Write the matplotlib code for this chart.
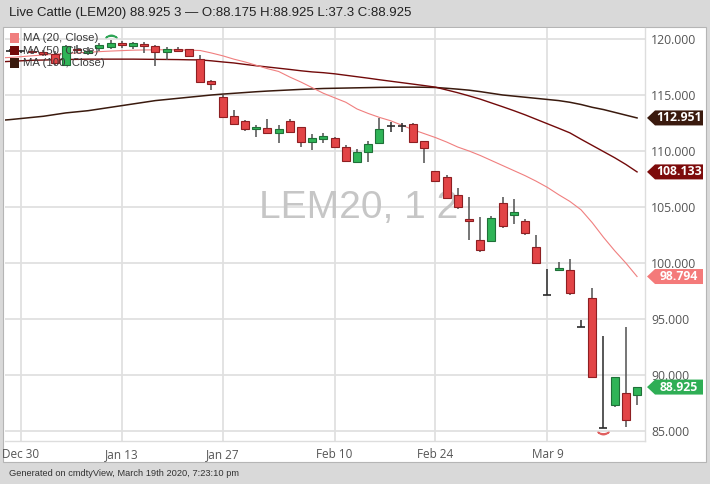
import matplotlib
matplotlib.use("Agg")
import matplotlib.pyplot as plt
from matplotlib.patches import Rectangle, Polygon
import numpy as np

# ---------------- data ----------------
dates = ["Dec 26", "Dec 27", "Dec 30", "Dec 31", "Jan 2", "Jan 3", "Jan 6", "Jan 7", "Jan 8", "Jan 9",
         "Jan 10", "Jan 13", "Jan 14", "Jan 15", "Jan 16", "Jan 17", "Jan 21", "Jan 22", "Jan 23", "Jan 24",
         "Jan 27", "Jan 28", "Jan 29", "Jan 30", "Jan 31", "Feb 3", "Feb 4", "Feb 5", "Feb 6", "Feb 7",
         "Feb 10", "Feb 11", "Feb 12", "Feb 13", "Feb 14", "Feb 18", "Feb 19", "Feb 20", "Feb 21", "Feb 24",
         "Feb 25", "Feb 26", "Feb 27", "Feb 28", "Mar 2", "Mar 3", "Mar 4", "Mar 5", "Mar 6", "Mar 9",
         "Mar 10", "Mar 11", "Mar 12", "Mar 13", "Mar 16", "Mar 17", "Mar 18", "Mar 19"]

nan = float("nan")
opens = [nan, 118.95, 118.90, 118.95, 118.80, 118.65, 117.70, 119.10, 118.78, 119.15,
         119.26, 119.67, 119.38, 119.53, 119.38, 118.87, 119.08, 119.08, 118.19, 116.28,
         114.80, 113.13, 112.70, 111.94, 112.02, 111.63, 112.68, 112.11, 110.83, 111.07,
         111.19, 110.32, 109.06, 109.88, 110.69, 112.23, 112.23, 112.40, 110.89, 108.21,
         107.71, 106.07, 103.93, 102.05, 101.99, 105.38, 104.31, 103.78, 101.46, 97.10,
         99.35, 99.38, 94.26, 96.85, 85.30, 87.32, 88.37, 88.175]
highs = [nan, 119.10, 119.05, 119.10, 119.00, 118.90, 119.50, 119.45, 119.30, 119.60,
         119.90, 119.80, 119.75, 119.73, 119.46, 119.26, 119.32, 119.10, 118.57, 116.30,
         115.00, 113.66, 112.75, 112.32, 112.83, 112.32, 112.83, 112.15, 111.49, 111.63,
         111.25, 110.54, 110.15, 110.92, 112.92, 112.62, 112.50, 112.53, 110.92, 108.25,
         107.86, 106.67, 105.86, 104.08, 104.20, 105.92, 105.68, 103.93, 102.50, 99.50,
         100.06, 100.33, 94.90, 97.74, 93.48, 89.82, 94.26, 88.925]
lows = [nan, 118.80, 118.75, 118.70, 118.50, 117.70, 117.60, 118.75, 118.60, 118.95,
        119.08, 119.17, 119.08, 118.72, 117.55, 118.13, 118.87, 118.35, 116.10, 115.45,
        112.95, 112.30, 111.81, 111.22, 111.52, 110.69, 111.63, 110.38, 110.09, 110.74,
        110.30, 109.05, 109.00, 109.06, 110.65, 111.72, 111.72, 110.80, 108.90, 107.30,
        105.70, 104.80, 102.05, 101.01, 101.95, 103.10, 103.48, 102.50, 99.90, 97.10,
        99.26, 97.15, 94.26, 89.75, 85.30, 87.11, 85.33, 87.30]
closes = [nan, 118.95, 118.90, 118.80, 118.70, 117.85, 119.40, 119.00, 118.96, 119.43,
          119.67, 119.46, 119.67, 119.38, 118.83, 119.08, 118.93, 118.48, 116.19, 115.95,
          113.00, 112.41, 111.94, 112.17, 111.58, 111.94, 111.72, 110.83, 111.13, 111.34,
          110.39, 109.11, 109.95, 110.60, 111.94, 112.23, 112.23, 110.83, 110.24, 107.36,
          105.77, 104.96, 103.72, 101.16, 104.00, 103.30, 104.55, 102.65, 99.97, 97.10,
          99.52, 97.29, 94.26, 89.79, 85.30, 89.79, 85.98, 88.925]

ma20 = [118.30, 118.35, 118.42, 118.50, 118.57, 118.63, 118.70, 118.76, 118.82, 118.87,
        118.92, 118.96, 119.00, 119.02, 119.03, 119.04, 119.03, 119.00, 118.97, 118.75,
        118.50, 118.20, 117.95, 117.65, 117.35, 117.10, 116.60, 116.15, 115.65, 115.15,
        114.75, 114.35, 113.75, 113.35, 113.00, 112.70, 112.30, 111.90, 111.55, 111.20,
        110.80, 110.35, 110.00, 109.60, 109.15, 108.70, 108.25, 107.80, 107.30, 106.75,
        106.10, 105.50, 104.75, 103.60, 102.30, 101.10, 100.00, 98.794]
ma50 = [117.95, 118.00, 118.05, 118.10, 118.12, 118.15, 118.17, 118.18, 118.20, 118.20,
        118.20, 118.20, 118.20, 118.19, 118.18, 118.17, 118.16, 118.14, 118.13, 118.05,
        117.95, 117.86, 117.73, 117.61, 117.50, 117.39, 117.28, 117.16, 117.06, 116.99,
        116.89, 116.76, 116.63, 116.50, 116.36, 116.23, 116.10, 115.97, 115.84, 115.70,
        115.45, 115.20, 114.92, 114.63, 114.29, 113.95, 113.60, 113.23, 112.83, 112.43,
        112.03, 111.62, 111.05, 110.50, 109.95, 109.40, 108.80, 108.133]
ma100 = [112.72, 112.80, 112.90, 113.00, 113.10, 113.25, 113.40, 113.50, 113.60, 113.75,
         113.90, 114.05, 114.20, 114.35, 114.50, 114.60, 114.70, 114.80, 114.90, 115.00,
         115.08, 115.15, 115.22, 115.29, 115.35, 115.40, 115.45, 115.50, 115.54, 115.58,
         115.60, 115.62, 115.64, 115.66, 115.68, 115.69, 115.70, 115.70, 115.69, 115.67,
         115.60, 115.52, 115.43, 115.30, 115.15, 115.00, 114.90, 114.80, 114.70, 114.60,
         114.50, 114.35, 114.15, 113.90, 113.70, 113.45, 113.20, 112.951]

tick_dates = ["Dec 30", "Jan 13", "Jan 27", "Feb 10", "Feb 24", "Mar 9"]
y_ticks = [85, 90, 95, 100, 105, 110, 115, 120]
legend_labels = ["MA (20, Close)", "MA (50, Close)", "MA (100, Close)"]
title_text = "Live Cattle (LEM20) 88.925 3 \u2014 O:88.175 H:88.925 L:37.3 C:88.925"
footer_text = "Generated on cmdtyView, March 19th 2020, 7:23:10 pm"
watermark = "LEM20, 1 2"

# ---------------- styling ----------------
W, H = 710, 484
C_UP, C_UP_E = "#2fb457", "#1f7038"
C_DN, C_DN_E = "#e24446", "#8e1f22"
C_WICK = "#505050"
C_MA20, C_MA50, C_MA100 = "#f07f7f", "#720a0a", "#3a1a0e"
C_GRID = "#e0e0e0"
C_TXT = "#555555"

plt.rcParams["font.family"] = ["Liberation Sans", "DejaVu Sans"]

fig = plt.figure(figsize=(W / 100, H / 100), dpi=100)
fig.patch.set_facecolor("#d9d9d9")


def fx(x):
    return x / W


def fy(y):
    return 1 - y / H


# white panel (behind the axes)
fig.patches.append(Rectangle((fx(3), fy(462)), fx(703), (462 - 27) / H, transform=fig.transFigure,
                             facecolor="white", edgecolor="#b5b5b5", lw=0.8, zorder=-5))

ax = fig.add_axes([fx(5), fy(441), 640 / W, 413 / H])
ax.set_facecolor("white")
ax.set_zorder(1)

n = len(dates)
idx0 = dates.index("Dec 30")
xs = np.arange(n) - idx0
ax.set_xlim(-1.43, 55.71)
ax.set_ylim(84.11, 120.98)

# grid
xt = [dates.index(d) - idx0 for d in tick_dates]
ax.set_xticks(xt)
ax.set_xticklabels(tick_dates, fontsize=8.5, color=C_TXT, family=["Open Sans", "DejaVu Sans"])
ax.set_yticks(y_ticks)
ax.set_yticklabels(["%.3f" % v for v in y_ticks], fontsize=8.8, color=C_TXT,
                   family=["Open Sans", "DejaVu Sans"])
ax.yaxis.tick_right()
ax.tick_params(axis="y", length=0, pad=4.5)
ax.tick_params(axis="x", length=0, pad=5)
ax.grid(True, color=C_GRID, lw=1.3, zorder=0)
ax.set_axisbelow(True)
for s in ["top", "left"]:
    ax.spines[s].set_visible(False)
for s in ["bottom", "right"]:
    ax.spines[s].set_color("#dddddd")
    ax.spines[s].set_linewidth(1.0)

# watermark
ax.text(0.397, 0.563, watermark, transform=ax.transAxes, fontsize=28, color="#c6c6c6",
        ha="left", va="center", zorder=1, family=["Liberation Sans", "DejaVu Sans"])

# MA lines
ax.plot(xs, ma100, color=C_MA100, lw=1.1, zorder=2)
ax.plot(xs, ma50, color=C_MA50, lw=1.0, zorder=2)
ax.plot(xs, ma20, color=C_MA20, lw=0.8, zorder=2)

# candles
bw = 0.72
o = np.array(opens); h = np.array(highs); l = np.array(lows); c = np.array(closes)
valid = ~np.isnan(o)
for i in np.where(valid)[0]:
    x = xs[i]
    if abs(c[i] - o[i]) < 1e-9:
        ax.vlines(x, l[i], h[i], color="#2a2a2a", lw=1.1, zorder=3)
        ax.hlines(o[i], x - bw / 2, x + bw / 2, color="#2a2a2a", lw=1.2, zorder=3)
        continue
    up = c[i] > o[i]
    ax.vlines(x, l[i], h[i], color=C_WICK, lw=1.1, zorder=3)
    ax.bar(x, abs(c[i] - o[i]), bottom=min(o[i], c[i]), width=bw,
           color=C_UP if up else C_DN, edgecolor=C_UP_E if up else C_DN_E, lw=0.8, zorder=4)

# high / low markers
imax = int(np.nanargmax(h)); imin = int(np.nanargmin(l))
ax.plot(xs[imax], h[imax] + 0.4, marker=r"$\frown$", ms=8, color="#2fa556", zorder=5)
ax.plot(xs[imin], l[imin] - 0.45, marker=r"$\smile$", ms=8, color="#e06060", zorder=5)

# legend
for k, (lab, col) in enumerate(zip(legend_labels, [C_MA20, C_MA50, C_MA100])):
    yc = 38 + k * 12.6
    fig.patches.append(Rectangle((fx(10), fy(yc + 4.5)), 9 / W, 9.5 / H, transform=fig.transFigure,
                                 facecolor=col, edgecolor="none", zorder=6))
    fig.text(fx(23), fy(yc), lab, fontsize=8.2, color="#3a3a3a", ha="left", va="center", zorder=6)

# right-side value tags
fig.canvas.draw()
inv = fig.transFigure.inverted()


def tag(val, col, txt, tcol="white"):
    yd = ax.transData.transform((0, val))[1]
    pts = [(647, yd), (655, yd - 7.5), (703, yd - 7.5), (703, yd + 7.5), (655, yd + 7.5)]
    pts = inv.transform(pts)
    fig.patches.append(Polygon(pts, closed=True, transform=fig.transFigure, facecolor=col,
                               edgecolor="none", zorder=7))
    fig.text(fx(679), inv.transform((0, yd))[1], txt, fontsize=8.8, fontweight="bold", color=tcol,
             ha="center", va="center", zorder=8, family=["Open Sans", "DejaVu Sans"])


tag(ma100[-1], C_MA100, "%.3f" % ma100[-1])
tag(ma50[-1], "#7d0b0b", "%.3f" % ma50[-1])
tag(ma20[-1], "#f47a7a", "%.3f" % ma20[-1])
tag(closes[-1], "#2fae55", "%.3f" % closes[-1])

# title and footer
fig.text(fx(9), fy(13), title_text, fontsize=9.5, color="#222222", ha="left", va="center")
fig.text(fx(9), fy(473), footer_text, fontsize=6.7, color="#333333", ha="left", va="center")

fig.savefig("out.png", dpi=100, facecolor=fig.get_facecolor())
